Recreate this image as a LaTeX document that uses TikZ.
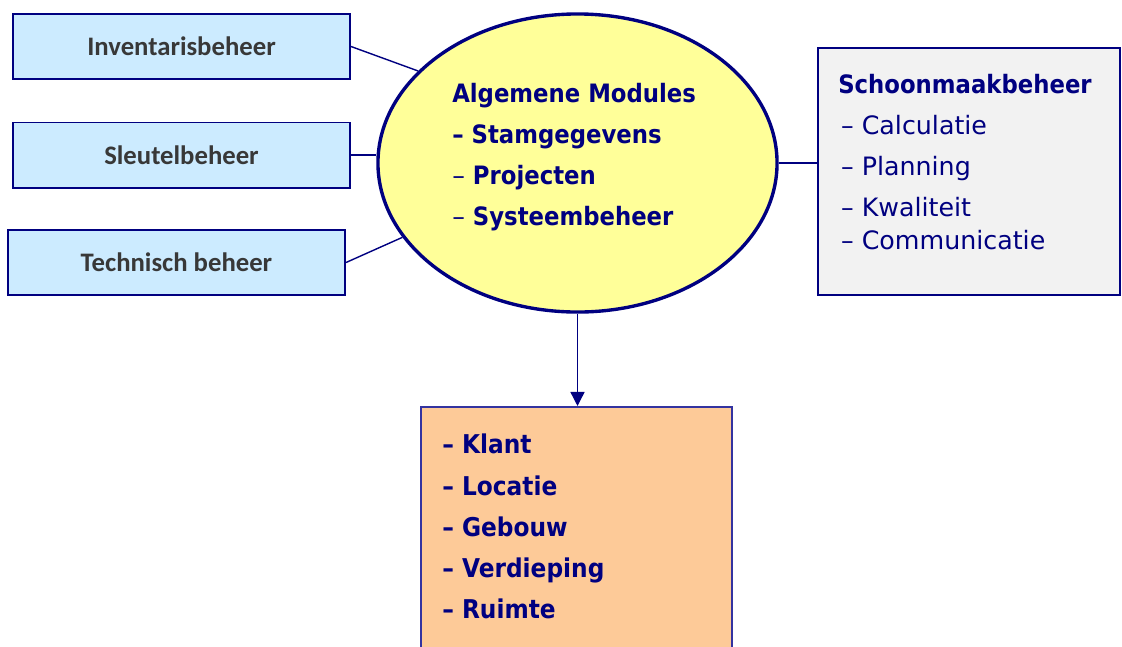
\documentclass[tikz,border=0pt]{standalone}
\usepackage{fontspec}
\setmainfont{DejaVu Sans}[BoldFeatures={FakeStretch=0.9}]
\newfontfamily\calfont{Carlito}
\usepackage{tikz}
\usetikzlibrary{calc,arrows.meta,shapes.geometric}

\definecolor{modnavy}{HTML}{000080}
\definecolor{boxblue}{HTML}{CCEBFF}
\definecolor{modyellow}{HTML}{FFFF99}
\definecolor{cleangrey}{HTML}{F2F2F2}
\definecolor{objorange}{HTML}{FDCA98}
\definecolor{objborder}{HTML}{3333A0}
\definecolor{sidetext}{HTML}{383838}

\tikzset{
  sidebox/.style={draw=modnavy, line width=1.4pt, fill=boxblue, inner sep=0pt,
    minimum width=8.425cm, minimum height=1.625cm,
    font=\calfont\bfseries\fontsize{19}{22}\selectfont, text=sidetext},
  link/.style={draw=modnavy, line width=1pt},
  listtext/.style={inner sep=0pt, anchor=north west, align=left, text=modnavy}
}

\begin{document}
\begin{tikzpicture}[x=0.025cm, y=-0.025cm]
    \useasboundingbox (0,0) rectangle (1122,646);

    % Side modules
    \node[sidebox] (inv) at (181.5,46.5) {Inventarisbeheer};
    \node[sidebox] (sleutel) at (181.5,155) {Sleutelbeheer};
    \node[sidebox] (tech) at (176.5,262.5) {Technisch beheer};

    % Central ellipse
    \node[ellipse, draw=modnavy, line width=2.4pt, fill=modyellow,
      minimum width=9.975cm, minimum height=7.45cm] (alg) at (577.5,163) {};
    \node[listtext, font=\fontsize{18}{29.2}\selectfont] (algtext) at (452,83)
      {\textbf{Algemene Modules}\\ \textbf{– Stamgegevens}\\ – \textbf{Projecten}\\ – \textbf{Systeembeheer}};

    % Schoonmaakbeheer
    \node[draw=modnavy, line width=1.4pt, fill=cleangrey, inner sep=0pt,
      minimum width=7.55cm, minimum height=6.175cm] (clean) at (969,171.5) {};
    \node[listtext, font=\fontsize{18}{29.2}\selectfont] (cleantext) at (838,74)
      {\textbf{Schoonmaakbeheer}\\ \hspace{2pt}– Calculatie\\ \hspace{2pt}– Planning\\ \hspace{2pt}– Kwaliteit\\[-5.7pt] \hspace{2pt}– Communicatie};

    % Stamgegevens objects
    \node[draw=objborder, line width=1.4pt, fill=objorange, inner sep=0pt,
      minimum width=7.775cm, minimum height=7.325cm] (obj) at (576.5,553.5) {};
    \node[listtext, font=\bfseries\fontsize{18.4}{29.2}\selectfont] (objtext) at (442,434)
      {– Klant\\ – Locatie\\ – Gebouw\\ – Verdieping\\ – Ruimte};

    % Connectors
    \draw[link] (inv.east) -- (alg.150);
    \draw[link] (sleutel.east) -- (sleutel.east -| alg.west);
    \draw[link] (tech.east) -- (alg.203);
    \draw[link] (alg.east) -- (alg.east -| clean.west);
    \draw[link, -{Triangle[length=10pt,width=10pt]}] (alg.south) -- (alg.south |- obj.north);
\end{tikzpicture}
\end{document}
